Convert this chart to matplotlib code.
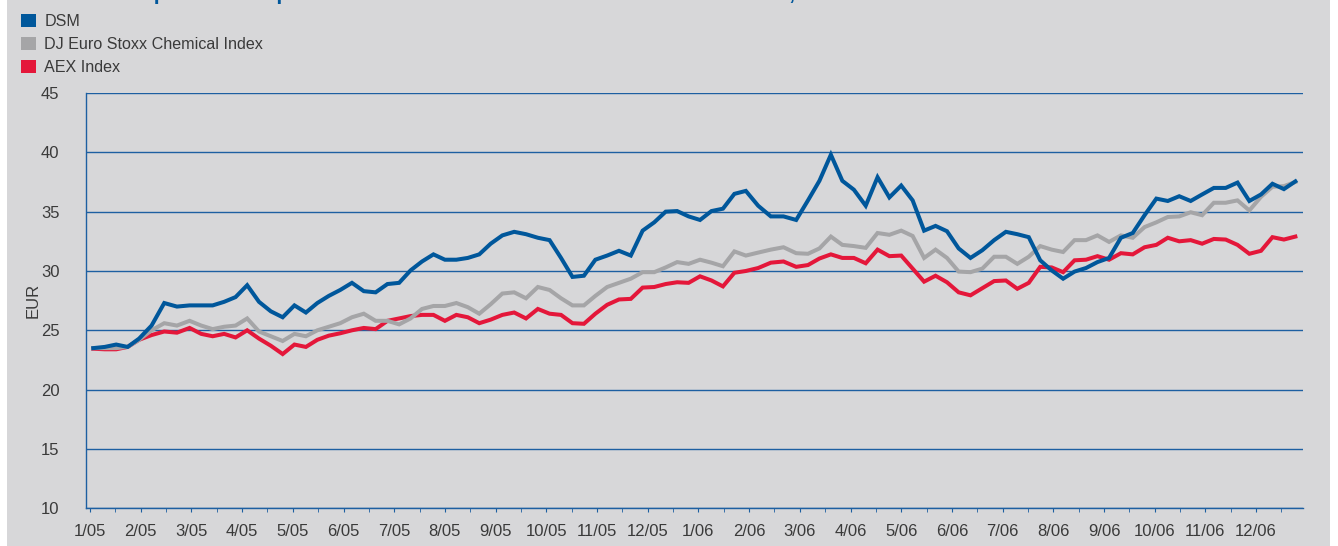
import matplotlib
matplotlib.use("Agg")
import matplotlib.pyplot as plt
from matplotlib.patches import Patch, Rectangle
import numpy as np
import pandas as pd

plt.rcParams['font.family'] = ['Liberation Sans', 'DejaVu Sans']

# weekly closing values, Jan 2005 - Dec 2006 (EUR, rebased)
dsm = [23.5, 23.6, 23.8, 23.6, 24.3, 25.4, 27.3, 27.0, 27.1, 27.1,
       27.1, 27.4, 27.8, 28.8, 27.4, 26.6, 26.1, 27.1, 26.5, 27.3,
       27.9, 28.4, 29.0, 28.3, 28.2, 28.9, 29.0, 30.05, 30.8, 31.4,
       30.95, 30.95, 31.1, 31.4, 32.3, 33.0, 33.3, 33.1, 32.8, 32.6,
       31.1, 29.5, 29.6, 30.95, 31.3, 31.7, 31.3, 33.4, 34.1, 35.0,
       35.05, 34.6, 34.3, 35.05, 35.25, 36.5, 36.75, 35.5, 34.6, 34.6,
       34.3, 35.95, 37.6, 39.8, 37.6, 36.85, 35.5, 37.9, 36.2, 37.2,
       35.95, 33.4, 33.8, 33.35, 31.9, 31.1, 31.75, 32.6, 33.3, 33.1,
       32.85, 30.9, 30.05, 29.35, 29.95, 30.25, 30.75, 31.1, 32.8, 33.2,
       34.7, 36.1, 35.9, 36.3, 35.9, 36.45, 37.0, 37.0, 37.45, 35.9,
       36.45, 37.35, 36.9, 37.55]
chem = [23.5, 23.5, 23.5, 23.6, 24.2, 25.0, 25.6, 25.4, 25.8, 25.4,
        25.1, 25.3, 25.4, 26.0, 24.9, 24.5, 24.1, 24.7, 24.5, 25.0,
        25.3, 25.6, 26.1, 26.4, 25.8, 25.8, 25.5, 26.0, 26.8, 27.05,
        27.05, 27.3, 26.95, 26.4, 27.2, 28.1, 28.2, 27.7, 28.65, 28.4,
        27.7, 27.1, 27.1, 27.9, 28.65, 29.0, 29.35, 29.9, 29.9, 30.3,
        30.75, 30.6, 30.95, 30.7, 30.4, 31.65, 31.3, 31.55, 31.8, 32.0,
        31.5, 31.45, 31.9, 32.9, 32.2, 32.1, 31.95, 33.2, 33.05, 33.4,
        32.95, 31.1, 31.8, 31.1, 29.95, 29.9, 30.2, 31.2, 31.2, 30.6,
        31.2, 32.1, 31.8, 31.6, 32.6, 32.6, 33.0, 32.45, 33.0, 32.8,
        33.7, 34.1, 34.55, 34.6, 34.95, 34.7, 35.75, 35.75, 35.95, 35.1,
        36.25, 37.1, 37.15, 37.5]
aex = [23.45, 23.4, 23.4, 23.6, 24.2, 24.6, 24.9, 24.8, 25.2, 24.7,
       24.5, 24.7, 24.4, 25.0, 24.3, 23.7, 23.0, 23.8, 23.6, 24.2,
       24.55, 24.75, 25.0, 25.2, 25.1, 25.8, 26.0, 26.2, 26.3, 26.3,
       25.8, 26.3, 26.1, 25.6, 25.9, 26.3, 26.5, 26.0, 26.8, 26.4,
       26.3, 25.6, 25.55, 26.4, 27.15, 27.6, 27.65, 28.6, 28.65, 28.9,
       29.05, 29.0, 29.55, 29.2, 28.7, 29.85, 30.0, 30.25, 30.7, 30.8,
       30.35, 30.5, 31.05, 31.4, 31.1, 31.1, 30.65, 31.8, 31.25, 31.3,
       30.2, 29.1, 29.6, 29.05, 28.2, 27.95, 28.55, 29.15, 29.2, 28.5,
       29.0, 30.35, 30.3, 29.9, 30.9, 30.95, 31.25, 30.95, 31.5, 31.4,
       32.0, 32.2, 32.8, 32.5, 32.6, 32.3, 32.7, 32.65, 32.2, 31.45,
       31.7, 32.85, 32.65, 32.9]

labels = ["DSM", "DJ Euro Stoxx Chemical Index", "AEX Index"]
colors = ["#00579b", "#a5a5a7", "#e4173a"]
month_labels = [f"{m}/{y}" for y in ("05", "06") for m in range(1, 13)]

dates = pd.date_range("2005-01-03", periods=len(dsm), freq="7D")
# position on a uniform month axis (0 = 1 Jan 2005)
x = ((dates.year - 2005) * 12 + dates.month - 1
     + (dates.day - 1) / dates.days_in_month).to_numpy()

bg = "#d7d7d9"
blue = "#1d5fa1"
txt = "#3a3a3a"

fig = plt.figure(figsize=(13.38, 5.46), dpi=100)
fig.patch.set_facecolor("white")
fig.patches.append(Rectangle((7 / 1338, 0), 1323 / 1338, 1, transform=fig.transFigure,
                             facecolor=bg, edgecolor="none", zorder=-10))

ax = fig.add_axes([86 / 1338, 1 - 508.3 / 546, 1217 / 1338, 415.3 / 546])
ax.set_facecolor(bg)

for series, c in zip([dsm, chem, aex][::-1], colors[::-1]):
    ax.plot(x, series, color=c, lw=2.9, solid_joinstyle="miter", zorder=3)

ax.set_ylim(10, 45)
ax.set_xlim(-0.079, 23.925)
ax.set_yticks(range(10, 46, 5))
ax.set_xticks(range(24))
ax.set_xticklabels(month_labels)
ax.set_xticks(np.arange(0.5, 24, 1), minor=True)
ax.yaxis.grid(True, color=blue, lw=1.0)
ax.set_axisbelow(True)

for s in ("top", "right"):
    ax.spines[s].set_visible(False)
for s in ("left", "bottom"):
    ax.spines[s].set_color(blue)
    ax.spines[s].set_linewidth(1.0)

ax.tick_params(axis="x", which="both", direction="out", length=3, color=blue,
               labelsize=12, labelcolor=txt, pad=8)
ax.tick_params(axis="y", length=0, labelsize=12, labelcolor=txt, pad=19)
ax.set_ylabel("EUR", fontsize=12, color=txt, labelpad=0)

handles = [Patch(facecolor=c, edgecolor="none") for c in colors]
fig.legend(handles, labels, loc="upper left", bbox_to_anchor=(21 / 1338, 1 - 14 / 546),
           frameon=False, fontsize=11.6, handlelength=0.9, handleheight=0.9,
           handletextpad=0.55, labelspacing=0.48, borderpad=0, borderaxespad=0,
           labelcolor=txt)

# headline sits mostly above the visible area, as in the source crop
fig.text(40 / 1338, 1 - 0.5 / 546,
         "DSM share price development relative to the DJ Euro Stoxx Chemical Index, AEX Index",
         fontsize=15, fontweight="bold", color="#00579b", va="baseline", ha="left")

fig.savefig("out.png", dpi=100, facecolor=fig.get_facecolor())
